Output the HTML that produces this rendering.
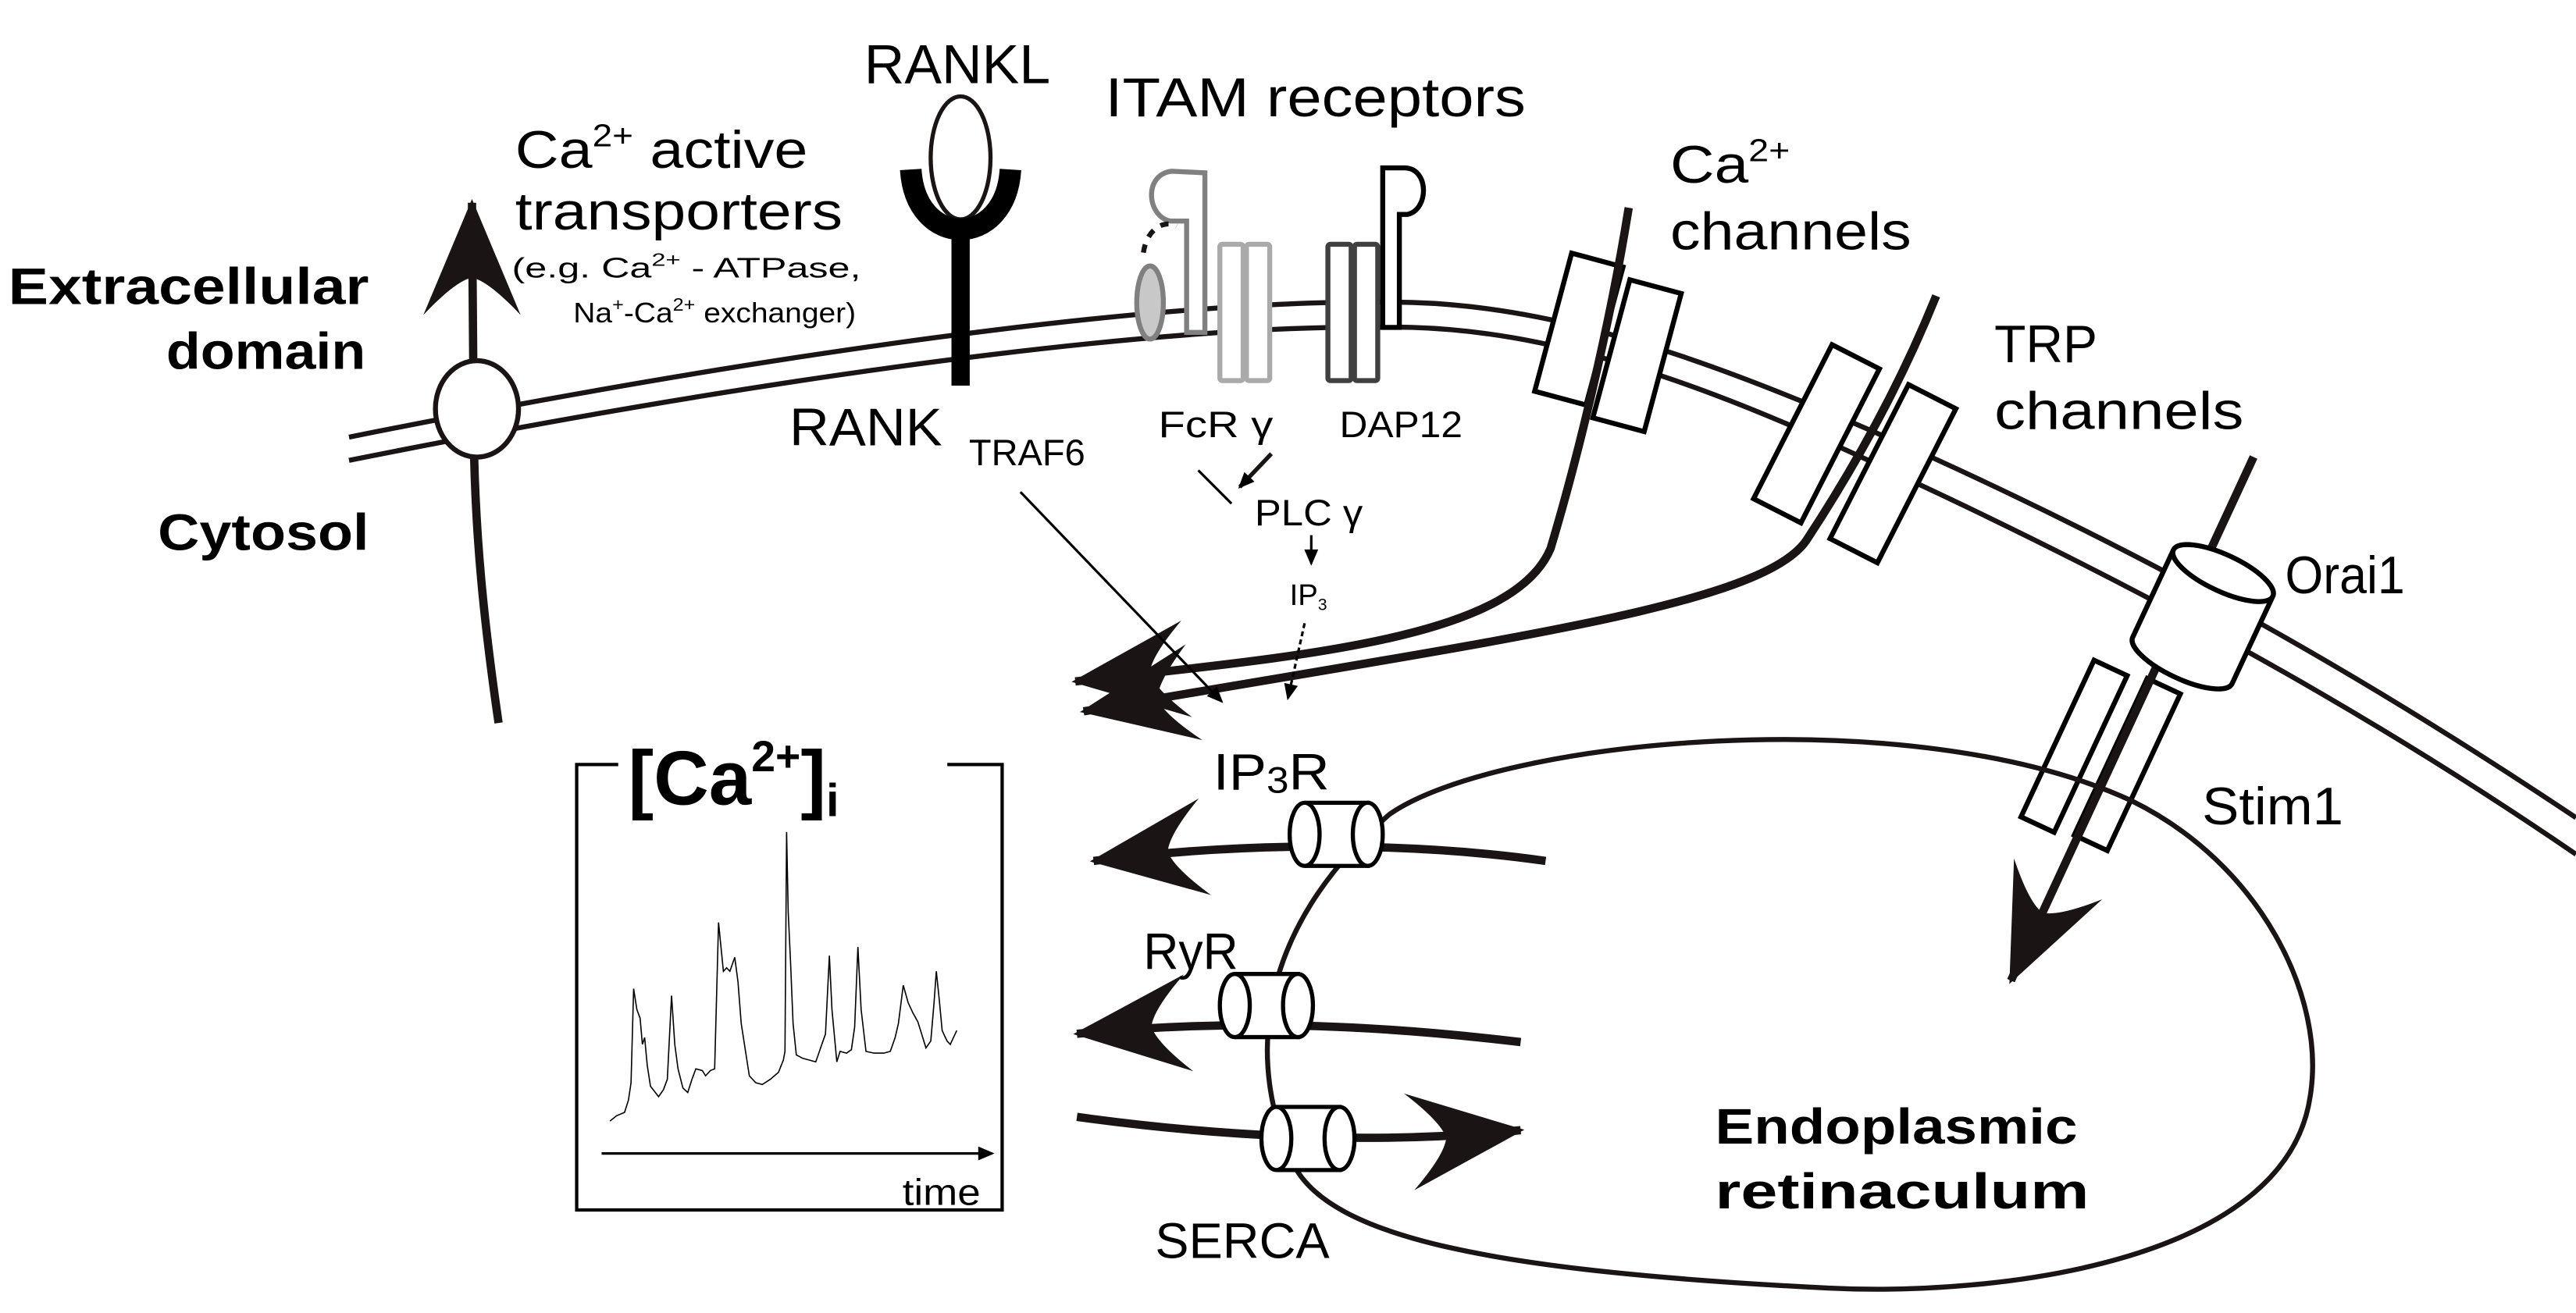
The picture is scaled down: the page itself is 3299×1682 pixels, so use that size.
<!DOCTYPE html>
<html><head><meta charset="utf-8"><style>
html,body{margin:0;padding:0;background:#fff}
svg{display:block}
text{font-family:"Liberation Sans",sans-serif;fill:#000}
.b{font-weight:bold}
</style></head><body>
<svg width="3299" height="1682" viewBox="0 0 1550 790" preserveAspectRatio="none" xmlns="http://www.w3.org/2000/svg">
<defs>
<marker id="ah" markerUnits="userSpaceOnUse" markerWidth="90" markerHeight="90" refX="0" refY="0" viewBox="-70 -35 80 70" orient="auto" overflow="visible">
<path d="M2,0 L-60,-26 Q-42,-9 -40,0 Q-42,9 -60,26 Z" fill="#1a1414"/>
</marker>
<marker id="sh" markerUnits="userSpaceOnUse" markerWidth="14" markerHeight="14" refX="0" refY="0" viewBox="-8 -4 10 8" orient="auto" overflow="visible">
<path d="M1,0 L-6,-3 L-6,3 Z" fill="#000"/>
</marker>
</defs>

<path d="M210,263 C450,215 700,178 850,182 C950,185 1050,225 1162,275 C1300,338 1420,405 1550,492" fill="none" stroke="#1a1414" stroke-width="3"/>
<path d="M210,277 C450,229 700,193 850,197 C950,200 1050,241 1156,292 C1290,355 1420,425 1550,514" fill="none" stroke="#1a1414" stroke-width="3"/>

<path d="M300,435 C292,380 285,320 285,250 C285,200 284,150 284,122" fill="none" stroke="#1a1414" stroke-width="5" marker-end="url(#ah)"/>
<ellipse cx="287" cy="246" rx="25" ry="29" fill="#fff" stroke="#1a1414" stroke-width="3"/>

<ellipse cx="578" cy="95" rx="18" ry="37" fill="#fff" stroke="#1a1414" stroke-width="2.5"/>
<path d="M548,102 C551,150 605,150 608,102" fill="none" stroke="#000" stroke-width="13"/>
<line x1="578" y1="140" x2="578" y2="232" stroke="#000" stroke-width="11"/>

<path d="M725,104 L725,200 L714,200 L714,133 L704,133 C690,130 688,105 705,103 Z" fill="#fff" stroke="#808080" stroke-width="3"/>
<path d="M688,152 C690,138 700,132 708,136" fill="none" stroke="#1a1414" stroke-width="3" stroke-dasharray="5,5"/>
<ellipse cx="692" cy="182" rx="8" ry="22" fill="#c8c8c8" stroke="#808080" stroke-width="3"/>
<rect x="734" y="147" width="14" height="82" rx="1.5" fill="#fff" stroke="#aaa" stroke-width="3"/>
<rect x="750" y="147" width="14" height="82" rx="1.5" fill="#fff" stroke="#aaa" stroke-width="3"/>
<rect x="799" y="147" width="14" height="82" rx="1.5" fill="#fff" stroke="#404040" stroke-width="3"/>
<rect x="815" y="147" width="14" height="82" rx="1.5" fill="#fff" stroke="#404040" stroke-width="3"/>
<path d="M832,101 L832,197 L842,197 L842,129 L847,129 C860,126 860,101 845,101 Z" fill="#fff" stroke="#000" stroke-width="3"/>

<g transform="translate(950,198) rotate(15)"><rect x="-16" y="-43" width="32" height="86" fill="#fff" stroke="#000" stroke-width="3"/></g>
<g transform="translate(985,214) rotate(15)"><rect x="-16" y="-43" width="32" height="86" fill="#fff" stroke="#000" stroke-width="3"/></g>
<path d="M980,125 C968,200 948,280 933,330 C910,385 780,395 647,410" fill="none" stroke="#1a1414" stroke-width="5" marker-end="url(#ah)"/>

<g transform="translate(1093,261) rotate(27)"><rect x="-16" y="-52" width="32" height="104" fill="#fff" stroke="#000" stroke-width="3"/></g>
<g transform="translate(1139,285) rotate(27)"><rect x="-16" y="-52" width="32" height="104" fill="#fff" stroke="#000" stroke-width="3"/></g>
<path d="M1165,178 C1140,240 1110,290 1087,325 C1060,365 900,385 652,428" fill="none" stroke="#1a1414" stroke-width="5" marker-end="url(#ah)"/>

<g transform="translate(1248,449) rotate(25)"><rect x="-11" y="-52" width="22" height="104" fill="#fff" stroke="#000" stroke-width="3"/></g>
<g transform="translate(1280,460) rotate(25)"><rect x="-11" y="-52" width="22" height="104" fill="#fff" stroke="#000" stroke-width="3"/></g>
<line x1="1356" y1="275" x2="1210" y2="590" stroke="#1a1414" stroke-width="5" marker-end="url(#ah)"/>
<g transform="translate(1325,372) rotate(25)">
<path d="M-33,-30 L-33,28 A33,11 0 0 0 33,28 L33,-30" fill="#fff" stroke="#000" stroke-width="3"/>
<ellipse cx="0" cy="-30" rx="33" ry="11" fill="#fff" stroke="#000" stroke-width="3"/>
</g>

<path d="M836,490 C900,445 1150,420 1283,482 C1360,520 1400,600 1390,660 C1375,760 1200,780 1100,775 C900,765 800,745 778,700 C750,640 755,560 836,490 Z" fill="none" stroke="#1a1414" stroke-width="3"/>

<path d="M930,518 C860,508 760,505 658,518" fill="none" stroke="#1a1414" stroke-width="5" marker-end="url(#ah)"/>
<path d="M915,627 C840,618 750,612 648,622" fill="none" stroke="#1a1414" stroke-width="5" marker-end="url(#ah)"/>
<path d="M648,672 C720,682 820,690 915,680" fill="none" stroke="#1a1414" stroke-width="5" marker-end="url(#ah)"/>

<g transform="translate(785,502)">
<path d="M0,-19 L38,-19 L38,19 L0,19" fill="#fff" stroke="#000" stroke-width="2.5"/>
<ellipse cx="38" cy="0" rx="9" ry="19" fill="#fff" stroke="#000" stroke-width="2.5"/>
<ellipse cx="0" cy="0" rx="9" ry="19" fill="#fff" stroke="#000" stroke-width="2.5"/>
</g>
<g transform="translate(743,605)">
<path d="M0,-19 L38,-19 L38,19 L0,19" fill="#fff" stroke="#000" stroke-width="2.5"/>
<ellipse cx="38" cy="0" rx="9" ry="19" fill="#fff" stroke="#000" stroke-width="2.5"/>
<ellipse cx="0" cy="0" rx="9" ry="19" fill="#fff" stroke="#000" stroke-width="2.5"/>
</g>
<g transform="translate(768,685)">
<path d="M0,-19 L38,-19 L38,19 L0,19" fill="#fff" stroke="#000" stroke-width="2.5"/>
<ellipse cx="38" cy="0" rx="9" ry="19" fill="#fff" stroke="#000" stroke-width="2.5"/>
<ellipse cx="0" cy="0" rx="9" ry="19" fill="#fff" stroke="#000" stroke-width="2.5"/>
</g>

<line x1="721" y1="283" x2="741" y2="303" stroke="#000" stroke-width="1.5"/>
<line x1="765" y1="273" x2="746" y2="293" stroke="#1a1414" stroke-width="2.5" marker-end="url(#sh)"/>
<line x1="789" y1="322" x2="789" y2="339" stroke="#000" stroke-width="1.5" marker-end="url(#sh)"/>
<line x1="785" y1="375" x2="775" y2="420" stroke="#000" stroke-width="1.5" stroke-dasharray="3,2" marker-end="url(#sh)"/>
<line x1="614" y1="296" x2="735" y2="422" stroke="#000" stroke-width="1.5" marker-end="url(#sh)"/>

<path d="M372,460 L347,460 L347,728 L603,728 L603,460 L570,460" fill="none" stroke="#000" stroke-width="2"/>
<line x1="362" y1="694" x2="597" y2="694" stroke="#000" stroke-width="1.5" marker-end="url(#sh)"/>
<g transform="translate(329,423) scale(0.195 0.2096)">
<polyline fill="none" stroke="#000" stroke-width="1.6" vector-effect="non-scaling-stroke" points="195,1200 215,1185 240,1175 252,1140 260,1090 268,820 278,880 288,905 295,980 302,960 310,1040 320,1100 345,1130 360,1110 372,1080 385,840 395,980 405,1050 420,1105 435,1118 448,1080 460,1050 480,1055 490,1070 505,1055 518,1050 530,630 545,770 555,760 565,770 580,730 590,800 600,920 610,980 625,1070 645,1090 665,1095 690,1080 715,1060 730,1025 735,1000 740,370 745,600 752,740 760,920 770,1010 790,1020 810,1025 830,1030 845,990 860,950 872,725 880,880 895,1030 905,1000 925,1005 940,995 950,930 960,700 970,880 985,1000 1010,1005 1040,1005 1060,1000 1075,960 1085,920 1100,810 1115,860 1130,890 1145,915 1160,960 1170,990 1185,970 1195,860 1202,770 1212,860 1220,940 1235,970 1245,980 1255,960 1265,940"/>
</g>

<text x="576" y="50" font-size="33" text-anchor="middle" textLength="112" lengthAdjust="spacingAndGlyphs">RANKL</text>
<text x="665" y="70" font-size="33" textLength="253" lengthAdjust="spacingAndGlyphs">ITAM receptors</text>
<text x="310" y="101" font-size="32" textLength="176" lengthAdjust="spacingAndGlyphs">Ca<tspan font-size="19" dy="-13">2+</tspan><tspan dy="13"> active</tspan></text>
<text x="310" y="138" font-size="32" textLength="197" lengthAdjust="spacingAndGlyphs">transporters</text>
<text x="308" y="167" font-size="17" textLength="210" lengthAdjust="spacingAndGlyphs">(e.g. Ca<tspan font-size="11" dy="-7">2+</tspan><tspan dy="7"> - ATPase,</tspan></text>
<text x="345" y="194" font-size="17" textLength="170" lengthAdjust="spacingAndGlyphs">Na<tspan font-size="11" dy="-7">+</tspan><tspan dy="7">-Ca</tspan><tspan font-size="11" dy="-7">2+</tspan><tspan dy="7"> exchanger)</tspan></text>
<text x="5" y="183" font-size="31" class="b" textLength="217" lengthAdjust="spacingAndGlyphs">Extracellular</text>
<text x="100" y="222" font-size="31" class="b" textLength="120" lengthAdjust="spacingAndGlyphs">domain</text>
<text x="95" y="331" font-size="31" class="b" textLength="127" lengthAdjust="spacingAndGlyphs">Cytosol</text>
<text x="475" y="268" font-size="32" textLength="92" lengthAdjust="spacingAndGlyphs">RANK</text>
<text x="1005" y="110" font-size="32" textLength="72" lengthAdjust="spacingAndGlyphs">Ca<tspan font-size="19" dy="-13">2+</tspan></text>
<text x="1005" y="150" font-size="32" textLength="145" lengthAdjust="spacingAndGlyphs">channels</text>
<text x="1200" y="218" font-size="32" textLength="62" lengthAdjust="spacingAndGlyphs">TRP</text>
<text x="1200" y="258" font-size="32" textLength="150" lengthAdjust="spacingAndGlyphs">channels</text>
<text x="1375" y="357" font-size="32" textLength="72" lengthAdjust="spacingAndGlyphs">Orai1</text>
<text x="1325" y="496" font-size="32" textLength="85" lengthAdjust="spacingAndGlyphs">Stim1</text>
<text x="697" y="263" font-size="22" textLength="69" lengthAdjust="spacingAndGlyphs">FcR γ</text>
<text x="806" y="263" font-size="22" textLength="74" lengthAdjust="spacingAndGlyphs">DAP12</text>
<text x="583" y="280" font-size="22" textLength="70" lengthAdjust="spacingAndGlyphs">TRAF6</text>
<text x="755" y="316" font-size="22" textLength="65" lengthAdjust="spacingAndGlyphs">PLC γ</text>
<text x="776" y="364" font-size="18">IP<tspan font-size="10" dy="3">3</tspan></text>
<text x="730" y="475" font-size="31" textLength="70" lengthAdjust="spacingAndGlyphs">IP<tspan font-size="22" dy="2">3</tspan><tspan dy="-2">R</tspan></text>
<text x="688" y="583" font-size="31" textLength="57" lengthAdjust="spacingAndGlyphs">RyR</text>
<text x="695" y="757" font-size="30" textLength="105" lengthAdjust="spacingAndGlyphs">SERCA</text>
<text x="1032" y="688" font-size="30" class="b" textLength="218" lengthAdjust="spacingAndGlyphs">Endoplasmic</text>
<text x="1032" y="727" font-size="30" class="b" textLength="225" lengthAdjust="spacingAndGlyphs">retinaculum</text>
<text x="543" y="725" font-size="22" textLength="47" lengthAdjust="spacingAndGlyphs">time</text>
<text x="378" y="484" font-size="46" class="b">[Ca<tspan font-size="26" dy="-20">2+</tspan><tspan dy="20">]</tspan><tspan font-size="28" dy="7">i</tspan></text>
</svg>
</body></html>
